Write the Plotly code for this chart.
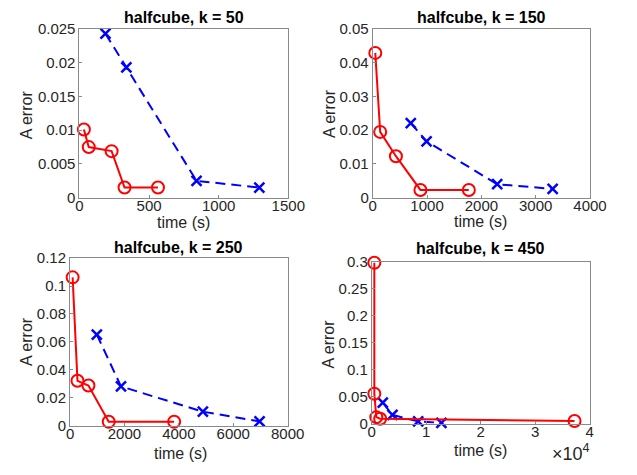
import plotly.graph_objects as go

W, H = 637, 475

titles = ["halfcube, k = 50", "halfcube, k = 150", "halfcube, k = 250", "halfcube, k = 450"]
x_label = "time (s)"
y_label = "A error"

# k = 50
red_x_50 = [32, 67, 231, 324, 564]
red_y_50 = [0.0101, 0.0075, 0.0069, 0.0015, 0.0015]
blue_x_50 = [187, 337, 841, 1292]
blue_y_50 = [0.0243, 0.0193, 0.0025, 0.0015]

# k = 150
red_x_150 = [47, 137, 427, 878, 1769]
red_y_150 = [0.0429, 0.0195, 0.0123, 0.0023, 0.0023]
blue_x_150 = [700, 991, 2291, 3312]
blue_y_150 = [0.0221, 0.0167, 0.0040, 0.0026]

# k = 250
red_x_250 = [95, 273, 676, 1422, 3828]
red_y_250 = [0.1062, 0.0322, 0.0288, 0.0029, 0.0029]
blue_x_250 = [984, 1873, 4883, 6969]
blue_y_250 = [0.0653, 0.0282, 0.0101, 0.0032]

# k = 450
red_x_450 = [470, 470, 834, 1544, 37214]
red_y_450 = [0.2985, 0.0555, 0.0120, 0.0090, 0.0048]
blue_x_450 = [2023, 3798, 8518, 12777]
blue_y_450 = [0.0388, 0.0161, 0.0041, 0.0013]

x_ticks = [[0, 500, 1000, 1500], [0, 1000, 2000, 3000, 4000],
           [0, 2000, 4000, 6000, 8000], [0, 10000, 20000, 30000, 40000]]
x_ticktext = [["0", "500", "1000", "1500"], ["0", "1000", "2000", "3000", "4000"],
              ["0", "2000", "4000", "6000", "8000"], ["0", "1", "2", "3", "4"]]
y_ticks = [[0, 0.005, 0.01, 0.015, 0.02, 0.025], [0, 0.01, 0.02, 0.03, 0.04, 0.05],
           [0, 0.02, 0.04, 0.06, 0.08, 0.1, 0.12], [0, 0.05, 0.1, 0.15, 0.2, 0.25, 0.3]]
y_ticktext = [["0", "0.005", "0.01", "0.015", "0.02", "0.025"],
              ["0", "0.01", "0.02", "0.03", "0.04", "0.05"],
              ["0", "0.02", "0.04", "0.06", "0.08", "0.1", "0.12"],
              ["0", "0.05", "0.1", "0.15", "0.2", "0.25", "0.3"]]
x_ranges = [[0, 1500], [0, 4000], [0, 8000], [0, 40000]]
y_ranges = [[0, 0.025], [0, 0.05], [0, 0.12], [0, 0.3]]

# layout in pixels
boxes = [(78, 294, 20.7, 195.7), (381.3, 606, 20.7, 195.7),
         (68.3, 293.3, 258.3, 432.3), (380.3, 605.7, 262.3, 430)]
title_y = [9, 9, 247.7, 248.3]
xlab_pos = [(186, 221), (493, 220), (182, 461), (493, 458)]
ylab_pos = [(23, 110), (336, 108), (23, 345), (336, 347)]

reds = [(red_x_50, red_y_50), (red_x_150, red_y_150), (red_x_250, red_y_250), (red_x_450, red_y_450)]
blues = [(blue_x_50, blue_y_50), (blue_x_150, blue_y_150), (blue_x_250, blue_y_250), (blue_x_450, blue_y_450)]

FONT = "Liberation Sans, Arial, Helvetica, sans-serif"
TXT = "#262626"
AX = "#8a8a8a"

fig = go.Figure()
layout = dict(width=W, height=H, margin=dict(l=0, r=0, t=0, b=0),
              paper_bgcolor="white", plot_bgcolor="white", showlegend=False,
              font=dict(family=FONT, color=TXT, size=15))
annotations = []

def px(x):
    return x / W

def py(y):
    return 1 - y / H

for i in range(4):
    n = "" if i == 0 else str(i + 1)
    xa, ya = "x" + n, "y" + n
    l, r, t, b = boxes[i]
    bx, by = blues[i]
    rx, ry = reds[i]
    fig.add_trace(go.Scatter(x=bx, y=by, xaxis=xa, yaxis=ya, mode="lines+markers",
                             line=dict(color="#0000ff", width=2, dash="10px,6px"),
                             marker=dict(symbol="x-thin", size=10, line=dict(color="#0000ff", width=2.5)),
                             cliponaxis=False))
    fig.add_trace(go.Scatter(x=rx, y=ry, xaxis=xa, yaxis=ya, mode="lines+markers",
                             line=dict(color="#ff0000", width=2),
                             marker=dict(symbol="circle-open", size=12, color="#ff0000",
                                         line=dict(color="#ff0000", width=2)),
                             cliponaxis=False))
    common = dict(showgrid=False, zeroline=False, showline=True, linecolor=AX, linewidth=1,
                  mirror=True, ticks="inside", ticklen=3, tickcolor=AX,
                  tickfont=dict(size=15, color=TXT, family=FONT))
    layout["xaxis" + n] = dict(common, domain=[px(l), px(r)], anchor=ya, range=x_ranges[i],
                               tickvals=x_ticks[i], ticktext=x_ticktext[i], ticklabelstandoff=-6)
    layout["yaxis" + n] = dict(common, domain=[py(b), py(t)], anchor=xa, range=y_ranges[i],
                               tickvals=y_ticks[i], ticktext=y_ticktext[i])
    annotations.append(dict(text="<b>" + titles[i] + "</b>", x=px((l + r) / 2), y=py(title_y[i]),
                            xref="paper", yref="paper", xanchor="center", yanchor="middle",
                            showarrow=False, font=dict(size=16, color="#000000", family=FONT)))
    annotations.append(dict(text=x_label, x=px(xlab_pos[i][0]), y=py(xlab_pos[i][1]),
                            xref="paper", yref="paper", xanchor="center", yanchor="middle",
                            showarrow=False, font=dict(size=16, color=TXT, family=FONT)))
    annotations.append(dict(text=y_label, x=px(ylab_pos[i][0]), y=py(ylab_pos[i][1]),
                            xref="paper", yref="paper", xanchor="center", yanchor="middle",
                            textangle=-90, showarrow=False, font=dict(size=16, color=TXT, family=FONT)))

annotations.append(dict(text="×10<sup>4</sup>", x=px(608), y=py(460), xref="paper", yref="paper",
                        xanchor="right", yanchor="middle", showarrow=False,
                        font=dict(size=18, color=TXT, family=FONT)))
layout["annotations"] = annotations
fig.update_layout(**layout)
fig.write_html("out.html")
